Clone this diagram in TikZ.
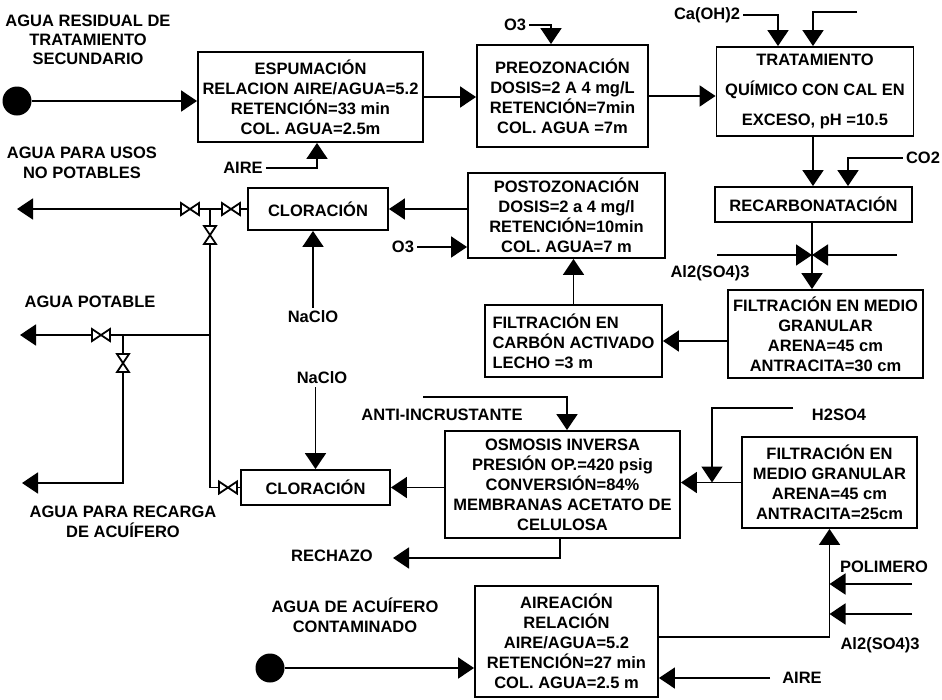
\documentclass[tikz,border=0pt]{standalone}
\usepackage{fontspec}
\setmainfont{Liberation Sans}
\usetikzlibrary{arrows.meta}
\begin{document}
\begin{tikzpicture}[x=1pt,y=-1pt,
  every node/.style={font=\fontsize{16.5}{20}\selectfont\bfseries, inner sep=3pt},
  box/.style={draw, line width=1.9pt, align=center, inner sep=0pt},
  lbl/.style={align=center},
  ln/.style={line width=1.9pt},
  arr/.style={ln, -{Triangle[length=16pt,width=21pt]}},
  dot/.style={circle, fill, inner sep=0pt, minimum size=29pt},
  hvalve/.pic={\draw[line width=1.8pt, fill=white] (-9,-6) -- (-9,6) -- (9,-6) -- (9,6) -- cycle;},
  vvalve/.pic={\draw[line width=1.8pt, fill=white] (-6,-9) -- (6,-9) -- (-6,9) -- (6,9) -- cycle;}
]
\useasboundingbox (0,0) rectangle (942,699);

% ---------- boxes ----------
\node[box, minimum width=225pt, minimum height=90pt] (esp) at (310.5,97)
  {ESPUMACIÓN\\RELACION AIRE/AGUA=5.2\\RETENCIÓN=33 min\\COL. AGUA=2.5m};
\node[box, minimum width=171pt, minimum height=102pt] (pre) at (562.5,96)
  {PREOZONACIÓN\\DOSIS=2 A 4 mg/L\\RETENCIÓN=7min\\COL. AGUA =7m};
\node[box, minimum width=197pt, minimum height=89pt] (tra) at (815,91.5)
  {TRATAMIENTO\\[10pt]QUÍMICO CON CAL EN\\[10pt]EXCESO, pH =10.5};
\node[box, minimum width=197pt, minimum height=35pt] (rec) at (813.5,204.5)
  {RECARBONATACIÓN};
\node[box, minimum width=195pt, minimum height=88pt] (fmg1) at (825.5,334)
  {FILTRACIÓN EN MEDIO\\GRANULAR\\ARENA=45 cm\\ANTRACITA=30 cm};
\node[box, align=left, minimum width=177pt, minimum height=72pt] (car) at (573.5,341)
  {FILTRACIÓN EN\\CARBÓN ACTIVADO\\LECHO =3 m};
\node[box, minimum width=197pt, minimum height=85pt] (pos) at (566.5,215.5)
  {POSTOZONACIÓN\\DOSIS=2 a 4 mg/l\\RETENCIÓN=10min\\COL. AGUA=7 m};
\node[box, minimum width=140pt, minimum height=42pt] (clo1) at (318,209)
  {CLORACIÓN};
\node[box, minimum width=149pt, minimum height=35pt] (clo2) at (315.5,487.5)
  {CLORACIÓN};
\node[box, minimum width=235pt, minimum height=107pt] (osm) at (562.5,484.5)
  {OSMOSIS INVERSA\\PRESIÓN OP.=420 psig\\CONVERSIÓN=84\%\\MEMBRANAS ACETATO DE\\CELULOSA};
\node[box, minimum width=175pt, minimum height=91pt] (fmg2) at (829.5,482.5)
  {FILTRACIÓN EN\\MEDIO GRANULAR\\ARENA=45 cm\\ANTRACITA=25cm};
\node[box, minimum width=183pt, minimum height=111pt] (air) at (566.5,641.5)
  {AIREACIÓN\\RELACIÓN\\AIRE/AGUA=5.2\\RETENCIÓN=27 min\\COL. AGUA=2.5 m};

% ---------- labels ----------
\node[lbl, font=\fontsize{16.5}{19}\selectfont\bfseries] (src1) at (88,40) {AGUA RESIDUAL DE\\TRATAMIENTO\\SECUNDARIO};
\node[lbl] (usos) at (82,163) {AGUA PARA USOS\\NO POTABLES};
\node[lbl] (potable) at (90,302) {AGUA POTABLE};
\node[lbl] (recarga) at (123,522) {AGUA PARA RECARGA\\DE ACUÍFERO};
\node[lbl] (src2) at (355,615) {AGUA DE ACUÍFERO\\CONTAMINADO};
\node (aire1) at (243,168) {AIRE};
\node (o3a) at (515,25) {O3};
\node (caoh) at (707,15) {Ca(OH)2};
\node (co2) at (923,158) {CO2};
\node (al1) at (710,273) {Al2(SO4)3};
\node (o3b) at (403,247) {O3};
\node (na1) at (313,317) {NaClO};
\node (na2) at (322,378) {NaClO};
\node (anti) at (442,415) {ANTI-INCRUSTANTE};
\node (rech) at (332,556) {RECHAZO};
\node (h2) at (839,415) {H2SO4};
\node (pol) at (884,567) {POLIMERO};
\node (al2) at (880,645) {Al2(SO4)3};
\node (aire2) at (802,678) {AIRE};

% ---------- sources ----------
\node[dot] (c1) at (17,101) {};
\node[dot] (c2) at (270,668) {};

% ---------- free ends and junctions ----------
\coordinate (cain2) at (857,12);
\coordinate (alL) at (717,255);
\coordinate (alR) at (897,255);
\coordinate (alJ) at (812,255);
\coordinate (tipA) at (17,209);
\coordinate (j1) at (210,209);
\coordinate (v1) at (190,209);
\coordinate (v2) at (231,209);
\coordinate (v3) at (210,235);
\coordinate (j2) at (210,335);
\coordinate (j3) at (123,335);
\coordinate (v5) at (101,335);
\coordinate (v6) at (123,363);
\coordinate (tipC) at (20,335);
\coordinate (tipD) at (22,483);
\coordinate (v4) at (228,487.5);
\coordinate (ai0) at (423,397);
\coordinate (rj) at (393,558);
\coordinate (h2s) at (793,408);
\coordinate (h2tip) at (712,482.5);
\coordinate (polS) at (912,584);
\coordinate (alS) at (912,614);
\coordinate (a2s) at (770,678);

% ---------- main flow ----------
\draw[arr] (c1) -- (c1 -| esp.west);
\draw[arr] (esp.east) -- (esp.east -| pre.west);
\draw[arr] (pre.east) -- (pre.east -| tra.west);
\draw[arr] (aire1.east) -| ([xshift=6.5pt]esp.south);
\draw[arr] (o3a.east) -| ([xshift=-11.5pt]pre.north);
\draw[arr] (caoh.east) -| ([xshift=-37pt]tra.north);
\draw[arr] (cain2) -| ([xshift=-2pt]tra.north);
\draw[arr] ([xshift=-2pt]tra.south) -- ([xshift=-2pt]tra.south |- rec.north);
\draw[arr] (co2.west) -| ([xshift=34.5pt]rec.north);
\draw[arr] (alJ |- rec.south) -- (alJ |- fmg1.north);
\draw[arr] (alL) -- (alJ);
\draw[arr] (alR) -- (alJ);
\draw[arr] (fmg1.west |- car.east) -- (car.east);
\draw[arr] (car.north) -- (car.north |- pos.south);
\draw[arr] (o3b.east) -- (o3b.east -| pos.west);
\draw[arr] (pos.west |- clo1.east) -- (clo1.east);
\draw[arr] (na1.north) -- (na1.north |- clo1.south);

% distribution lines
\draw[arr] (clo1.west) -- (tipA);
\draw[ln] (j1) |- (clo2.west);
\draw[arr] (j2) -- (tipC);
\draw[arr] (j3) |- (tipD);

% lower train
\draw[arr] (clo2.north |- na2.south) -- (clo2.north);
\draw[arr] (osm.west |- clo2.east) -- (clo2.east);
\draw[arr] (ai0) -| ([xshift=4.5pt]osm.north);
\draw[arr] ([xshift=-2.5pt]osm.south) |- (rj);
\draw[arr] (fmg2.west) -- (fmg2.west -| osm.east);
\draw[arr] (h2s) -| (h2tip);
\draw[arr] (air.east |- 0,637) -| (fmg2.south);
\draw[arr] (polS) -- (polS -| fmg2.south);
\draw[arr] (alS) -- (alS -| fmg2.south);
\draw[arr] (a2s) -- (a2s -| air.east);
\draw[arr] (c2) -- (c2 -| air.west);

% valves
\pic at (v1) {hvalve};
\pic at (v2) {hvalve};
\pic at (v3) {vvalve};
\pic at (v5) {hvalve};
\pic at (v6) {vvalve};
\pic at (v4) {hvalve};
\end{tikzpicture}
\end{document}
